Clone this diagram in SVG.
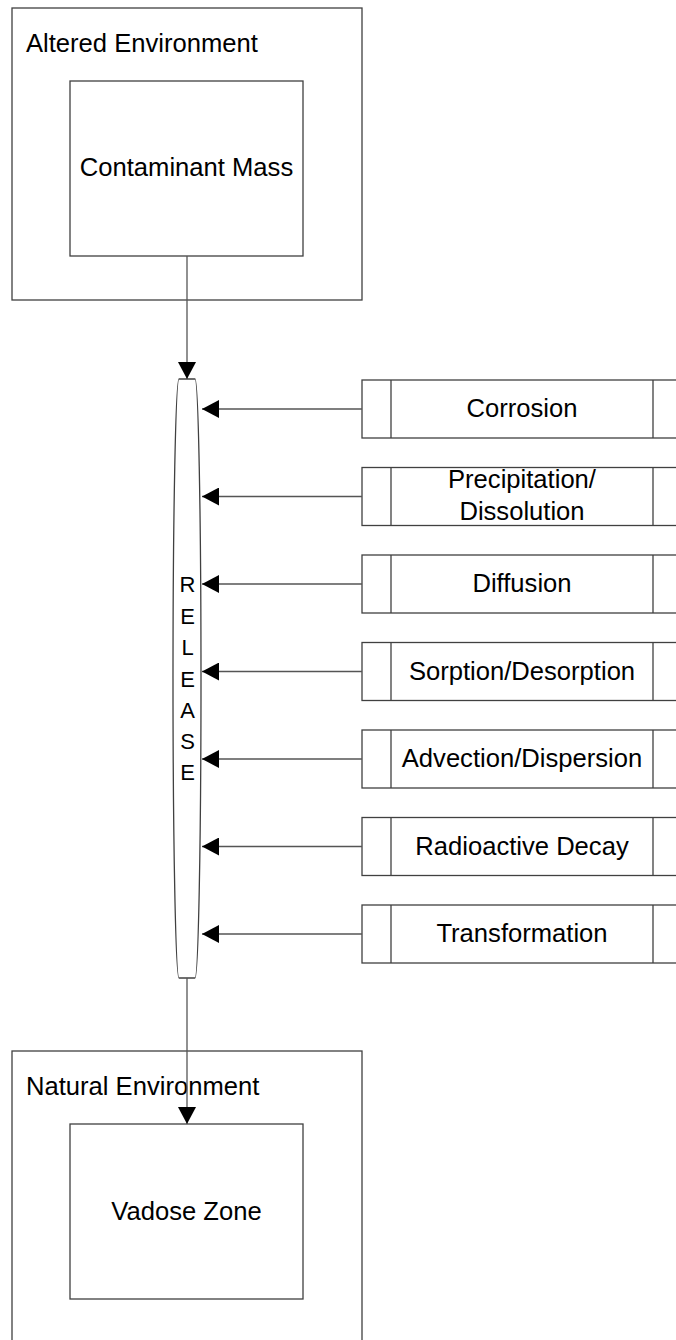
<svg xmlns="http://www.w3.org/2000/svg" width="676" height="1340" viewBox="0 0 676 1340">
  <defs>
    <style>
      .frame { fill: #ffffff; stroke: #404040; stroke-width: 1.3; }
      .proc { fill: #ffffff; stroke: #404040; stroke-width: 1.3; }
      .wire { fill: none; stroke: #555555; stroke-width: 1.3; }
      .lbl { font-family: "Liberation Sans", Arial, sans-serif; font-size: 25.6px; fill: #000000; }
      .mid { text-anchor: middle; }
      .rel { font-family: "Liberation Sans", Arial, sans-serif; font-size: 22px; fill: #000000; text-anchor: middle; }
    </style>
    <marker id="arrow" viewBox="0 0 17 18" refX="17" refY="9" markerWidth="17" markerHeight="18" markerUnits="userSpaceOnUse" orient="auto">
      <path d="M0,0 L17,9 L0,18 Z" fill="#000000"/>
    </marker>
  </defs>

  <rect width="676" height="1340" fill="#ffffff"/>

  <!-- altered environment with contaminant source -->
  <g id="altered-environment">
    <rect class="frame" x="12" y="8" width="350" height="292"/>
    <text class="lbl" x="26" y="52">Altered Environment</text>
  </g>
  <g id="contaminant-mass">
    <rect class="frame" x="70" y="81" width="233" height="175"/>
    <text class="lbl mid" x="186.5" y="176">Contaminant Mass</text>
  </g>

  <!-- release column -->
  <g id="release">
    <path class="proc" d="M179,379 L195,379 A6,299.5 0 0 1 195,978 L179,978 A6,299.5 0 0 1 179,379 Z"/>
    <text class="rel" x="187.5" y="592">R</text>
    <text class="rel" x="187.5" y="623.5">E</text>
    <text class="rel" x="187.5" y="655">L</text>
    <text class="rel" x="187.5" y="686.5">E</text>
    <text class="rel" x="187.5" y="717.5">A</text>
    <text class="rel" x="187.5" y="749">S</text>
    <text class="rel" x="187.5" y="780">E</text>
  </g>

  <!-- processes acting on the release -->
  <g id="p-corrosion">
    <rect class="proc" x="362" y="380" width="330" height="58"/>
    <line class="proc" x1="391" y1="380" x2="391" y2="438"/>
    <line class="proc" x1="653" y1="380" x2="653" y2="438"/>
    <text class="lbl mid" x="522" y="417">Corrosion</text>
  </g>
  <g id="p-precipitation">
    <rect class="proc" x="362" y="467.5" width="330" height="58"/>
    <line class="proc" x1="391" y1="467.5" x2="391" y2="525.5"/>
    <line class="proc" x1="653" y1="467.5" x2="653" y2="525.5"/>
    <text class="lbl mid" x="522" y="488">Precipitation/</text>
    <text class="lbl mid" x="522" y="520">Dissolution</text>
  </g>
  <g id="p-diffusion">
    <rect class="proc" x="362" y="555" width="330" height="58"/>
    <line class="proc" x1="391" y1="555" x2="391" y2="613"/>
    <line class="proc" x1="653" y1="555" x2="653" y2="613"/>
    <text class="lbl mid" x="522" y="592">Diffusion</text>
  </g>
  <g id="p-sorption">
    <rect class="proc" x="362" y="642.5" width="330" height="58"/>
    <line class="proc" x1="391" y1="642.5" x2="391" y2="700.5"/>
    <line class="proc" x1="653" y1="642.5" x2="653" y2="700.5"/>
    <text class="lbl mid" x="522" y="679.5">Sorption/Desorption</text>
  </g>
  <g id="p-advection">
    <rect class="proc" x="362" y="730" width="330" height="58"/>
    <line class="proc" x1="391" y1="730" x2="391" y2="788"/>
    <line class="proc" x1="653" y1="730" x2="653" y2="788"/>
    <text class="lbl mid" x="522" y="767">Advection/Dispersion</text>
  </g>
  <g id="p-decay">
    <rect class="proc" x="362" y="817.5" width="330" height="58"/>
    <line class="proc" x1="391" y1="817.5" x2="391" y2="875.5"/>
    <line class="proc" x1="653" y1="817.5" x2="653" y2="875.5"/>
    <text class="lbl mid" x="522" y="854.5">Radioactive Decay</text>
  </g>
  <g id="p-transformation">
    <rect class="proc" x="362" y="905" width="330" height="58"/>
    <line class="proc" x1="391" y1="905" x2="391" y2="963"/>
    <line class="proc" x1="653" y1="905" x2="653" y2="963"/>
    <text class="lbl mid" x="522" y="942">Transformation</text>
  </g>

  <!-- natural environment receiving the release -->
  <g id="natural-environment">
    <rect class="frame" x="12" y="1051" width="350" height="320"/>
    <text class="lbl" x="26" y="1095">Natural Environment</text>
  </g>
  <g id="vadose-zone">
    <rect class="frame" x="70" y="1124" width="233" height="175"/>
    <text class="lbl mid" x="186.5" y="1220">Vadose Zone</text>
  </g>

  <!-- connectors -->
  <g id="connectors">
    <line class="wire" x1="187" y1="256" x2="187" y2="379" marker-end="url(#arrow)"/>
    <line class="wire" x1="362" y1="409" x2="202" y2="409" marker-end="url(#arrow)"/>
    <line class="wire" x1="362" y1="496.5" x2="202" y2="496.5" marker-end="url(#arrow)"/>
    <line class="wire" x1="362" y1="584" x2="202" y2="584" marker-end="url(#arrow)"/>
    <line class="wire" x1="362" y1="671.5" x2="202" y2="671.5" marker-end="url(#arrow)"/>
    <line class="wire" x1="362" y1="759" x2="202" y2="759" marker-end="url(#arrow)"/>
    <line class="wire" x1="362" y1="846.5" x2="202" y2="846.5" marker-end="url(#arrow)"/>
    <line class="wire" x1="362" y1="934" x2="202" y2="934" marker-end="url(#arrow)"/>
    <line class="wire" x1="187" y1="978" x2="187" y2="1124" marker-end="url(#arrow)"/>
  </g>
</svg>
